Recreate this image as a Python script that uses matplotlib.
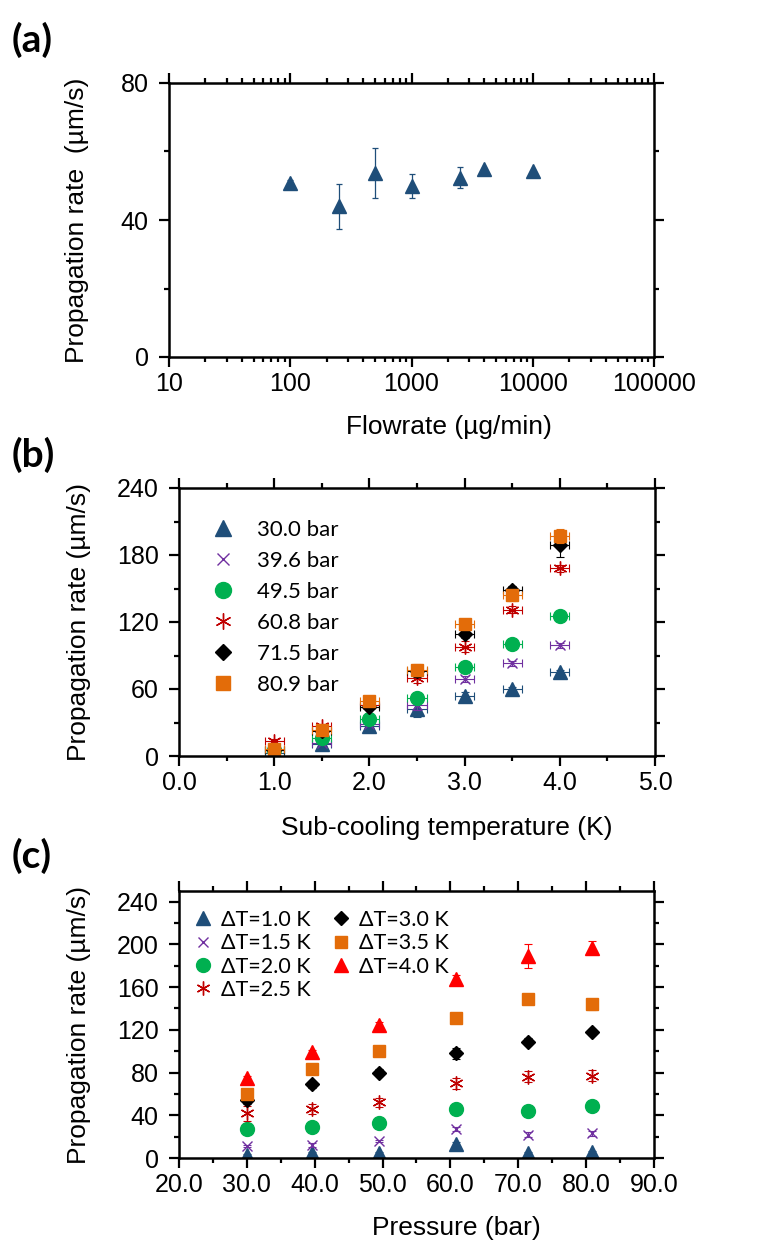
import matplotlib
matplotlib.use("Agg")
import matplotlib.pyplot as plt
from matplotlib.ticker import MultipleLocator, LogLocator, NullFormatter, FormatStrFormatter
from matplotlib.font_manager import FontProperties

# panel (a): flowrate scan
flowrate = [100, 250, 500, 1000, 2500, 4000, 10000]
flow_rate = [50.7, 44.0, 53.8, 50.0, 52.4, 54.9, 54.4]
flow_err = [1.0, 6.6, 7.3, 3.5, 3.0, 0.0, 0.0]

# panels (b) and (c): same data, rows = sub-cooling, columns = pressure
pressures = [30.0, 39.6, 49.5, 60.8, 71.5, 80.9]
subcool = [1.0, 1.5, 2.0, 2.5, 3.0, 3.5, 4.0]
subcool_xerr = 0.1

rate_10 = [3, 5, 5, 13, 5, 6]
rate_15 = [11, 12, 16, 27, 22, 23]
rate_20 = [27, 29, 33, 46, 44, 49]
rate_25 = [42, 46, 52, 70, 76, 77]
rate_30 = [54, 69, 80, 98, 109, 118]
rate_35 = [60, 83, 100, 131, 149, 144]
rate_40 = [75, 99, 125, 168, 189, 197]

err_10 = [1, 1, 1, 2, 1, 1]
err_15 = [1, 2, 1, 2, 2, 2]
err_20 = [2, 2, 2, 2, 2, 2]
err_25 = [7, 5, 4, 5, 5, 5]
err_30 = [3, 3, 3, 5, 3, 3]
err_35 = [2, 2, 2, 3, 3, 5]
err_40 = [2, 2, 2, 3, 11, 6]

rates = [rate_10, rate_15, rate_20, rate_25, rate_30, rate_35, rate_40]
errs = [err_10, err_15, err_20, err_25, err_30, err_35, err_40]

BLUE = "#1F4E79"
# style per pressure (panel b)
p_styles = [
    dict(color=BLUE, marker="^", ms=10.5, mew=1),
    dict(color="#7030A0", marker="x", ms=7, mew=1),
    dict(color="#00B050", marker="o", ms=10, mew=1),
    dict(color="#C00000", marker=(6, 2, 0), ms=10, mew=1),
    dict(color="black", marker="D", ms=7.5, mew=1),
    dict(color="#E36C09", marker="s", ms=8.5, mew=1),
]
# style per sub-cooling (panel c)
t_styles = [
    dict(color=BLUE, marker="^", ms=10.5, mew=1),
    dict(color="#7030A0", marker="x", ms=7, mew=1),
    dict(color="#00B050", marker="o", ms=10, mew=1),
    dict(color="#C00000", marker=(6, 2, 0), ms=10, mew=1),
    dict(color="black", marker="D", ms=7.5, mew=1),
    dict(color="#E36C09", marker="s", ms=8.5, mew=1),
    dict(color="#FF0000", marker="^", ms=10.5, mew=1),
]

plt.rcParams["font.family"] = ["Liberation Sans", "DejaVu Sans"]
TICK_FS = 18
LABEL_FS = 19
leg_font_b = FontProperties(family=["Lato", "DejaVu Sans"], size=16)
leg_font_c = FontProperties(family=["Lato", "DejaVu Sans"], size=15.5)

W, H = 780, 1243
fig = plt.figure(figsize=(W / 100, H / 100), dpi=100)


def frac(l, t, r, b):
    return [l / W, 1 - b / H, (r - l) / W, (b - t) / H]


def style_axes(ax):
    for s in ax.spines.values():
        s.set_linewidth(1.8)
    ax.tick_params(which="both", direction="out", top=True, right=True, width=1.6,
                   labelsize=TICK_FS)
    ax.tick_params(which="major", length=7.5)
    ax.tick_params(which="minor", length=3.5)
    ax.tick_params(axis="y", pad=7)


# ---- (a)
ax1 = fig.add_axes(frac(169, 83, 654, 357))
ax1.errorbar(flowrate, flow_rate, yerr=flow_err, fmt="none", ecolor=BLUE,
             elinewidth=0.9, capsize=2.5, capthick=0.9)
ax1.plot(flowrate, flow_rate, linestyle="none", marker="^", ms=10.5, color=BLUE)
ax1.set_xscale("log")
ax1.set_xlim(10, 100000)
ax1.set_ylim(0, 80)
ax1.set_xticks([10, 100, 1000, 10000, 100000])
ax1.set_xticklabels(["10", "100", "1000", "10000", "100000"])
ax1.xaxis.set_minor_locator(LogLocator(base=10, subs=range(2, 10)))
ax1.xaxis.set_minor_formatter(NullFormatter())
ax1.yaxis.set_major_locator(MultipleLocator(40))
ax1.yaxis.set_minor_locator(MultipleLocator(20))
style_axes(ax1)
ax1.set_xlabel("Flowrate (µg/min)", fontsize=LABEL_FS)
ax1.set_ylabel("Propagation rate  (µm/s)", fontsize=LABEL_FS)
ax1.xaxis.set_label_coords(0.577, -0.21)
ax1.yaxis.set_label_coords(-0.165, 0.5)

# ---- (b)
ax2 = fig.add_axes(frac(179, 488, 655, 756))
for j, p in enumerate(pressures):
    st = p_styles[j]
    y = [r[j] for r in rates]
    ye = [e[j] for e in errs]
    ax2.errorbar(subcool, y, xerr=subcool_xerr, yerr=ye, fmt="none", ecolor=st["color"],
                 elinewidth=0.8, capsize=3, capthick=0.8)
    ax2.plot(subcool, y, linestyle="none", color=st["color"], marker=st["marker"],
             ms=st["ms"], mew=st["mew"], label=f"{p:.1f} bar")
ax2.set_xlim(0, 5)
ax2.set_ylim(0, 240)
ax2.xaxis.set_major_locator(MultipleLocator(1))
ax2.xaxis.set_minor_locator(MultipleLocator(0.5))
ax2.yaxis.set_major_locator(MultipleLocator(60))
ax2.yaxis.set_minor_locator(MultipleLocator(30))
ax2.xaxis.set_major_formatter(FormatStrFormatter("%.1f"))
style_axes(ax2)
ax2.set_xlabel("Sub-cooling temperature (K)", fontsize=LABEL_FS)
ax2.set_ylabel("Propagation rate (µm/s)", fontsize=LABEL_FS)
ax2.xaxis.set_label_coords(0.563, -0.225)
ax2.yaxis.set_label_coords(-0.185, 0.5)
ax2.legend(loc="upper left", bbox_to_anchor=(0.069, 0.88), frameon=False, prop=leg_font_b,
           handlelength=1.0, handletextpad=1.03, labelspacing=0.49, borderpad=0,
           borderaxespad=0, numpoints=1, markerscale=1.15)

# ---- (c)
ax3 = fig.add_axes(frac(179, 891, 654, 1158))
for i, dt in enumerate(subcool):
    st = t_styles[i]
    ax3.errorbar(pressures, rates[i], yerr=errs[i], fmt="none", ecolor=st["color"],
                 elinewidth=0.8, capsize=3, capthick=0.8)
    ax3.plot(pressures, rates[i], linestyle="none", color=st["color"], marker=st["marker"],
             ms=st["ms"], mew=st["mew"], label=f"ΔT={dt:.1f} K")
ax3.set_xlim(20, 90)
ax3.set_ylim(0, 250)
ax3.xaxis.set_major_locator(MultipleLocator(10))
ax3.xaxis.set_minor_locator(MultipleLocator(5))
ax3.yaxis.set_major_locator(MultipleLocator(40))
ax3.yaxis.set_minor_locator(MultipleLocator(20))
ax3.xaxis.set_major_formatter(FormatStrFormatter("%.1f"))
style_axes(ax3)
ax3.set_xlabel("Pressure (bar)", fontsize=LABEL_FS)
ax3.set_ylabel("Propagation rate (µm/s)", fontsize=LABEL_FS)
ax3.xaxis.set_label_coords(0.583, -0.218)
ax3.yaxis.set_label_coords(-0.185, 0.5)
ax3.legend(loc="upper left", bbox_to_anchor=(0.032, 0.93), frameon=False, prop=leg_font_c,
           ncol=2, handlelength=0.8, handletextpad=0.44, labelspacing=0.16,
           columnspacing=1.0, borderpad=0, borderaxespad=0, numpoints=1)

# panel letters
for txt, yc in [("(a)", 40), ("(b)", 455), ("(c)", 856)]:
    fig.text(12 / W, 1 - yc / H, txt, fontsize=28, fontweight="bold",
             family=["Lato", "DejaVu Sans"], va="center", ha="left")

fig.savefig("out.png", dpi=100)
